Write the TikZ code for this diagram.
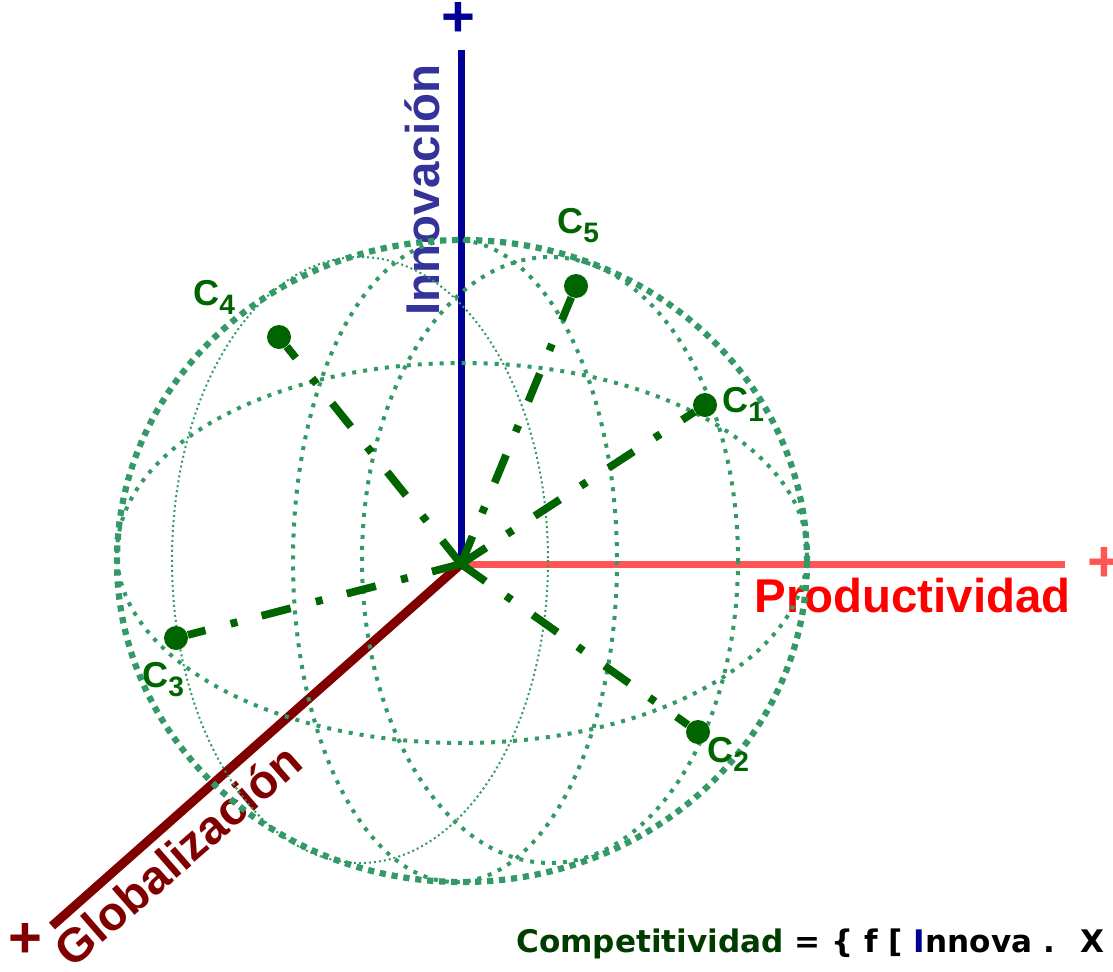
\documentclass[tikz,border=0pt]{standalone}
\usepackage{fontspec}
\setmainfont{Liberation Sans}
\newfontfamily\formulafont{DejaVu Sans}
\definecolor{axisblue}{RGB}{0,0,150}
\definecolor{innotext}{RGB}{51,51,153}
\definecolor{prodred}{RGB}{255,85,85}
\definecolor{globred}{RGB}{128,0,0}
\definecolor{spheregreen}{RGB}{51,153,102}
\definecolor{pointgreen}{RGB}{0,100,0}
\definecolor{compgreen}{RGB}{0,60,0}
\newcommand{\clabel}[1]{{\fontsize{20.5}{20.5}\selectfont C}\raisebox{-5.5pt}{\fontsize{16}{16}\selectfont #1}}

\begin{document}
\begin{tikzpicture}[x=0.2mm, y=-0.2mm, font=\bfseries,
    outer/.style={spheregreen, line width=1.25mm, dash pattern=on 1.25mm off 1.15mm},
    meridian/.style={spheregreen, line width=0.8mm, dash pattern=on 0.8mm off 1.4mm},
    backline/.style={spheregreen, line width=0.4mm, dash pattern=on 0.4mm off 0.6mm},
    vector/.style={pointgreen, line width=1.55mm, dash pattern=on 6mm off 5mm on 1.4mm off 5.2mm},
    point/.style={circle, fill=pointgreen, inner sep=0pt, minimum size=4.8mm},
    plabel/.style={text=pointgreen, inner sep=0pt, anchor=base west},
    axislabel/.style={font=\bfseries\fontsize{27}{27}\selectfont, inner sep=0pt, anchor=base},
    plussign/.style={font=\bfseries\fontsize{33}{33}\selectfont, inner sep=0pt, anchor=center}]
        \useasboundingbox (0,0) rectangle (1113,971);
        \clip (0,0) rectangle (1113,971);

        % Axes
        \coordinate (O) at (461,564);
        \coordinate (innoend) at (461,50);
        \coordinate (prodend) at (1065,564);
        \coordinate (globend) at (52,926);
        \draw[axisblue, line width=1.4mm] (O) -- (innoend);
        \draw[prodred, line width=1.4mm] (O) -- (prodend);
        \draw[globred, line width=1.8mm] (O) -- (globend);
        \node[plussign, text=axisblue] (innoplus) at (458,19) {+};
        \node[plussign, text=prodred] (prodplus) at (1104,564) {+};
        \node[plussign, text=globred] (globplus) at (25,940) {+};
        \node[axislabel, text=innotext, rotate=90] (innolabel) at (439,190) {Innovación};
        \node[axislabel, text=red, anchor=base west] (prodlabel) at (754,612) {Productividad};
        \node[axislabel, text=globred, rotate=41] (globlabel) at (189,868) {Globalización};

        % Sphere
        \draw[backline] (360,560) ellipse [x radius=188, y radius=303];
        \draw[meridian] (455,561) ellipse [x radius=162, y radius=321];
        \draw[meridian] (550,560) ellipse [x radius=188, y radius=303];
        \draw[meridian] (462,553) ellipse [x radius=345, y radius=190];
        \draw[outer] (462,561) ellipse [x radius=345, y radius=321];

        % Points
        \node[point] (c1) at (705,405) {};
        \node[point] (c2) at (698,732) {};
        \node[point] (c3) at (176,638) {};
        \node[point] (c4) at (279,337) {};
        \node[point] (c5) at (576,286) {};
        \foreach \i in {1,...,5}
            \draw[vector] (O) -- (c\i);
        \node[plabel] (l1) at (722,412) {\clabel{1}};
        \node[plabel] (l2) at (707,762) {\clabel{2}};
        \node[plabel] (l3) at (142,687) {\clabel{3}};
        \node[plabel] (l4) at (193,305) {\clabel{4}};
        \node[plabel] (l5) at (557,233) {\clabel{5}};

        % Formula
        \node[anchor=base west, inner sep=0pt, font=\formulafont\bfseries\fontsize{17.7}{17.7}\selectfont] (formula) at (516,952)
            {\textcolor{compgreen}{Competitividad} = \{ f [~\textcolor{axisblue}{I}nnova .~ X};
    \end{tikzpicture}
\end{document}
